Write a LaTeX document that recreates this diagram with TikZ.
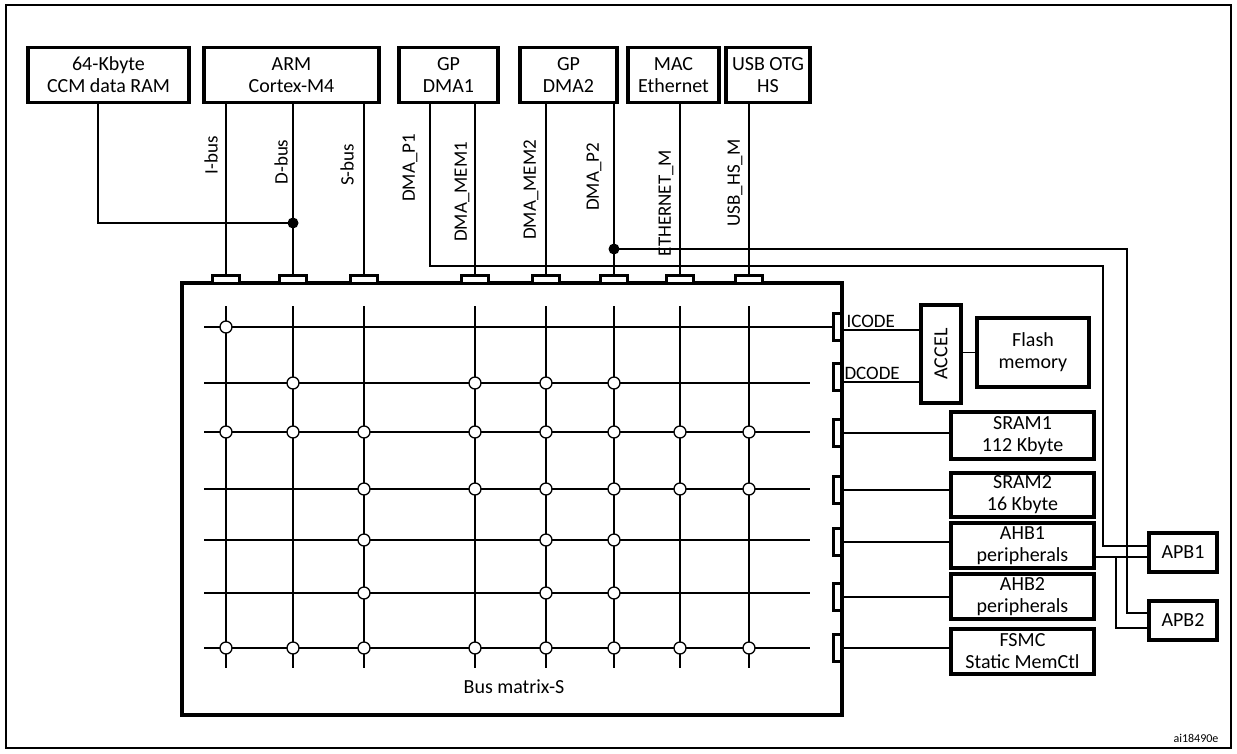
\documentclass[tikz,border=0pt]{standalone}
\usepackage{fontspec}
\setmainfont{Carlito}
\begin{document}
\begin{tikzpicture}[x=1pt,y=-1pt,
  box/.style={draw,line width=3.5pt,inner sep=0pt,align=center,font=\fontsize{20}{22}\selectfont},
  port/.style={draw,line width=3pt,fill=white,inner sep=0pt},
  wire/.style={line width=1.4pt},
  lbl/.style={font=\fontsize{19}{21}\selectfont,rotate=90},
  jn/.style={circle,draw,line width=1.3pt,fill=white,inner sep=0pt,minimum size=12pt},
  dot/.style={circle,fill=black,inner sep=0pt,minimum size=11pt}]
\useasboundingbox (0,0) rectangle (1237,753);
\draw[line width=1.8pt] (6,5) -- (6,748) -- (1231,748) -- (1231,5) -- cycle;
\node[font=\fontsize{12}{14}\selectfont] (code) at (1196,738) {ai18490e};
% top boxes
\node[box,minimum width=161,minimum height=55] (ccm) at (108.5,75) {64-Kbyte\\CCM data RAM};
\node[box,minimum width=175,minimum height=55] (arm) at (291.5,75) {ARM\\Cortex-M4};
\node[box,minimum width=99,minimum height=55] (dma1) at (448.5,75) {GP\\DMA1};
\node[box,minimum width=97,minimum height=55] (dma2) at (568.5,75) {GP\\DMA2};
\node[box,minimum width=91,minimum height=55] (mac) at (673.5,75) {MAC\\Ethernet};
\node[box,minimum width=84,minimum height=55] (usb) at (768,75) {USB OTG\\HS};
% matrix
\node[draw,line width=4.5pt,minimum width=660,minimum height=432,inner sep=0pt] (mx) at (512,499) {};
\node[font=\fontsize{20}{22}\selectfont] (mxl) at (514,687) {Bus matrix-S};
% grid
\foreach \c in {226,293,364,475,546,614,680,749} \draw[wire] (\c,306) -- (\c,668);
\foreach \r in {383,432,489,540,593,648} \draw[wire] (204,\r) -- (810,\r);
% top ports
\foreach \n/\c in {pi/226,pd/293,ps/364,pm1/475,pm2/546,pp2/614,pe/680,pu/749}
  \node[port,minimum width=27,minimum height=8] (\n) at (\c,279) {};
% right ports
\foreach \n/\r in {ric/327,rdc/377,rs1/433,rs2/490,ra1/542,ra2/597,rf/648}
  \node[port,minimum width=8,minimum height=27] (\n) at (837,\r) {};
\draw[wire] (204,327) -- (ric.west);
% junctions
\foreach \c/\r in {226/327, 293/383,475/383,546/383,614/383,
  226/432,293/432,364/432,475/432,546/432,614/432,680/432,749/432,
  364/489,475/489,546/489,614/489,680/489,749/489,
  364/540,546/540,614/540, 364/593,546/593,614/593,
  226/648,293/648,364/648,475/648,546/648,614/648,680/648,749/648}
  \node[jn] at (\c,\r) {};
% right boxes
\node[box,minimum width=40,minimum height=98] (accel) at (941,354) {};
\node[font=\fontsize{20}{22}\selectfont,rotate=90] (accl) at (accel.center) {ACCEL};
\node[box,minimum width=112,minimum height=69] (flash) at (1033,352.5) {Flash\\memory};
\node[box,minimum width=143,minimum height=47] (s1) at (1022.5,435.5) {SRAM1\\112 Kbyte};
\node[box,minimum width=143,minimum height=44] (s2) at (1022.5,495) {SRAM2\\16 Kbyte};
\node[box,minimum width=143,minimum height=45] (a1) at (1022.5,545.5) {AHB1\\peripherals};
\node[box,minimum width=143,minimum height=45] (a2) at (1022.5,596.5) {AHB2\\peripherals};
\node[box,minimum width=143,minimum height=45] (fs) at (1022.5,651.5) {FSMC\\Static MemCtl};
\node[box,minimum width=68,minimum height=39] (apb1) at (1183,552.5) {APB1};
\node[box,minimum width=68,minimum height=39] (apb2) at (1183,620.5) {APB2};
% right wiring
\draw[wire] (ric.east |- 0,330) -- (accel.west |- 0,330);
\node[font=\fontsize{19}{21}\selectfont,anchor=south west] (icl) at (843,331) {ICODE};
\draw[wire] (rdc.east |- 0,382) -- (accel.west |- 0,382);
\node[font=\fontsize{19}{21}\selectfont,anchor=south west] (dcl) at (841,383) {DCODE};
\draw[wire] (accel.east |- flash.west) -- (flash.west);
\draw[wire] (rs1.east) -- (s1.west |- rs1.east);
\draw[wire] (rs2.east) -- (s2.west |- rs2.east);
\draw[wire] (ra1.east) -- (a1.west |- ra1.east);
\draw[wire] (ra2.east) -- (a2.west |- ra2.east);
\draw[wire] (rf.east) -- (fs.west |- rf.east);
\coordinate (ab) at (1116,557);
\draw[wire] (a1.east |- ab) -- (apb1.west |- ab);
\draw[wire] (ab) -- (1116,628) -- (apb2.west |- 0,628);
% top wiring
\draw[wire] (pi.north) -- (pi.north |- arm.south);
\draw[wire] (pd.north) -- (pd.north |- arm.south);
\draw[wire] (ps.north) -- (ps.north |- arm.south);
\draw[wire] (pm1.north) -- (pm1.north |- dma1.south);
\draw[wire] (pm2.north) -- (pm2.north |- dma2.south);
\draw[wire] (pp2.north) -- (pp2.north |- dma2.south);
\draw[wire] (pe.north) -- (pe.north |- mac.south);
\draw[wire] (pu.north) -- (pu.north |- usb.south);
\node[dot] (d1) at (293,223) {};
\draw[wire] (ccm.south -| 98,0) -- (98,223) -- (d1.center);
\node[dot] (d2) at (614,249) {};
\draw[wire] (d2.center) -- (1127,249) -- (1127,613) -- (apb2.west |- 0,613);
\draw[wire] (dma1.south -| 430,0) -- (430,266) -- (1103,266) -- (1103,546) -- (apb1.west |- 0,546);
% bus labels
\node[lbl] (l1) at (211,155) {I-bus};
\node[lbl] (l2) at (281,162) {D-bus};
\node[lbl] (l3) at (347,165) {S-bus};
\node[lbl] (l4) at (410,168) {DMA\_P1};
\node[lbl] (l5) at (462,192) {DMA\_MEM1};
\node[lbl] (l6) at (531,190) {DMA\_MEM2};
\node[lbl] (l7) at (594,177) {DMA\_P2};
\node[lbl] (l8) at (666,203) {ETHERNET\_M};
\node[lbl] (l9) at (735,183) {USB\_HS\_M};
\end{tikzpicture}
\end{document}
